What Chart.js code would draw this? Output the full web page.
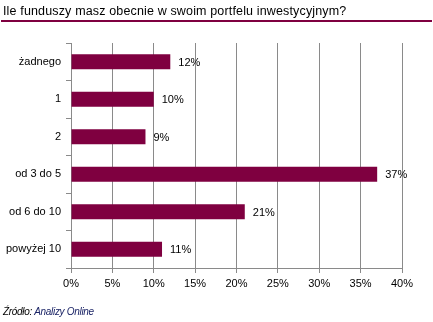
<!DOCTYPE html>
<html>
<head>
<meta charset="utf-8">
<script src="https://cdn.jsdelivr.net/npm/chart.js@4/dist/chart.umd.min.js"></script>
<style>
  body { margin: 0; background: #fff; }
  #wrap { position: relative; width: 433px; height: 322px; overflow: hidden; }
  #title {
    position: absolute; left: 3px; top: 4px;
    font: 12.5px "Liberation Sans", Arial, sans-serif; color: #000;
    letter-spacing: 0.15px; white-space: nowrap;
  }
  #rule { position: absolute; left: 1px; top: 20px; width: 431px; height: 2px; background: #7f0040; }
  #source {
    position: absolute; left: 3px; top: 306px;
    font: italic 10px "Liberation Sans", Arial, sans-serif; color: #000;
    letter-spacing: -0.3px; white-space: nowrap;
  }
  #source span { color: #1b2466; }
  canvas { position: absolute; left: 0; top: 0; }
</style>
</head>
<body>
<div id="wrap">
  <canvas id="chart" width="433" height="322"></canvas>
  <div id="title">Ile funduszy masz obecnie w swoim portfelu inwestycyjnym?</div>
  <div id="rule"></div>
  <div id="source">Źródło: <span>Analizy Online</span></div>
</div>
<script>
// chart data
const categories = ['żadnego', '1', '2', 'od 3 do 5', 'od 6 do 10', 'powyżej 10'];
const shares = [12, 10, 9, 37, 21, 11];
const axisMax = 40;
const axisStep = 5;

// draws the "12%" labels next to each bar
const valueLabels = {
    id: 'valueLabels',
    afterDatasetsDraw(chart) {
        const ctx = chart.ctx;
        const meta = chart.getDatasetMeta(0);
        ctx.save();
        ctx.font = '11px "Liberation Sans", Arial, sans-serif';
        ctx.fillStyle = '#000';
        ctx.textBaseline = 'middle';
        ctx.textAlign = 'left';
        meta.data.forEach(function (bar, i) {
            ctx.fillText(shares[i] + '%', bar.x + 8, bar.y + 1);
        });
        ctx.restore();
    }
};

const ctx = document.getElementById('chart').getContext('2d');
new Chart(ctx, {
    type: 'bar',
    data: {
        labels: categories,
        datasets: [{
            data: shares,
            backgroundColor: '#7f0040',
            borderWidth: 0,
            barPercentage: 0.4,
            categoryPercentage: 1.0
        }]
    },
    options: {
        indexAxis: 'y',
        responsive: false,
        animation: false,
        layout: { padding: { top: 43, right: 31, left: 0, bottom: 0 } },
        plugins: {
            legend: { display: false },
            tooltip: { enabled: false }
        },
        scales: {
            x: {
                min: 0,
                max: axisMax,
                afterFit: function (scale) { scale.height = 54; },
                ticks: {
                    stepSize: axisStep,
                    padding: 4,
                    color: '#000',
                    font: { family: '"Liberation Sans", Arial, sans-serif', size: 11 },
                    callback: function (value) { return value + '%'; }
                },
                grid: { color: '#8a8a8a', tickLength: 5, lineWidth: 1 },
                border: { color: '#8a8a8a' }
            },
            y: {
                afterFit: function (scale) { scale.width = 71; },
                ticks: {
                    padding: 5,
                    color: '#000',
                    font: { family: '"Liberation Sans", Arial, sans-serif', size: 11 }
                },
                grid: { drawOnChartArea: false, offset: true, tickLength: 5, color: '#8a8a8a' },
                border: { color: '#8a8a8a' }
            }
        }
    },
    plugins: [valueLabels]
});
</script>
</body>
</html>
